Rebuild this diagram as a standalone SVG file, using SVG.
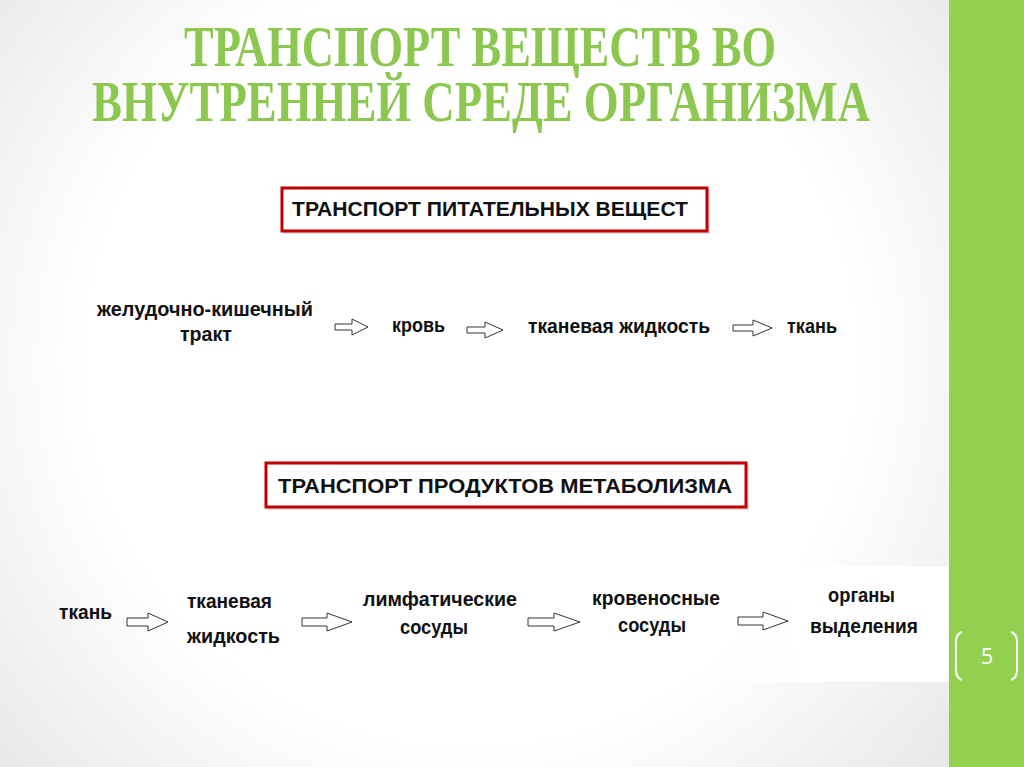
<svg xmlns="http://www.w3.org/2000/svg" width="1024" height="767" viewBox="0 0 1024 767">
  <defs>
    <radialGradient id="bg" cx="470" cy="360" r="640" gradientUnits="userSpaceOnUse">
      <stop offset="0" stop-color="#ffffff"/>
      <stop offset="0.6" stop-color="#ffffff"/>
      <stop offset="1" stop-color="#e6e6e6"/>
    </radialGradient>
    <linearGradient id="panel" x1="700" y1="0" x2="800" y2="0" gradientUnits="userSpaceOnUse">
      <stop offset="0" stop-color="#ffffff" stop-opacity="0"/>
      <stop offset="1" stop-color="#ffffff" stop-opacity="1"/>
    </linearGradient>
    <style>
      .title { font-family: "Liberation Serif", "DejaVu Serif", serif; font-weight: bold; font-size: 57px; fill: #8cc84f; }
      .t { font-family: "Liberation Sans", Arial, sans-serif; font-weight: bold; font-size: 20px; fill: #111111; }
      .box { fill: #ffffff; stroke: #c00000; stroke-width: 3; }
      .shadow { fill: none; stroke: #bbbbbb; stroke-width: 2; opacity: 0.5; }
      .arr { fill: #ffffff; stroke: #333333; stroke-width: 1; stroke-linejoin: miter; }
      .pg { font-family: "Open Sans", "Liberation Sans", sans-serif; font-size: 22px; fill: #ffffff; }
      .br { fill: none; stroke: #ffffff; stroke-width: 2; }
    </style>
  </defs>

  <!-- background -->
  <rect x="0" y="0" width="1024" height="767" fill="url(#bg)"/>
  <rect x="700" y="566" width="249" height="116" fill="url(#panel)"/>
  <rect x="949" y="0" width="75" height="767" fill="#92d050"/>

  <!-- page number -->
  <g id="page-number">
    <path class="br" d="M962,632 Q956,634 956,642 V670 Q956,678 962,680"/>
    <path class="br" d="M1011,632 Q1017,634 1017,642 V670 Q1017,678 1011,680"/>
    <text class="pg" x="987" y="664" text-anchor="middle">5</text>
  </g>

  <!-- title -->
  <g id="title">
    <text class="title" x="184" y="66" textLength="592" lengthAdjust="spacingAndGlyphs">ТРАНСПОРТ ВЕЩЕСТВ ВО</text>
    <text class="title" x="92" y="121" textLength="778" lengthAdjust="spacingAndGlyphs">ВНУТРЕННЕЙ СРЕДЕ ОРГАНИЗМА</text>
  </g>

  <!-- header boxes -->
  <g id="box-nutrients">
    <rect class="shadow" x="284" y="190" width="425" height="43"/>
    <rect class="box" x="282" y="188" width="425" height="43"/>
    <text class="t" x="292" y="216" textLength="396" lengthAdjust="spacingAndGlyphs">ТРАНСПОРТ ПИТАТЕЛЬНЫХ ВЕЩЕСТ</text>
  </g>
  <g id="box-metabolism">
    <rect class="shadow" x="268" y="465" width="480" height="44"/>
    <rect class="box" x="266" y="463" width="480" height="44"/>
    <text class="t" x="278" y="493" textLength="454" lengthAdjust="spacingAndGlyphs">ТРАНСПОРТ ПРОДУКТОВ МЕТАБОЛИЗМА</text>
  </g>

  <!-- row 1 nodes -->
  <g id="n1-gi-tract">
    <text class="t" x="97" y="316" textLength="216" lengthAdjust="spacingAndGlyphs">желудочно-кишечный</text>
    <text class="t" x="180" y="341" textLength="52" lengthAdjust="spacingAndGlyphs">тракт</text>
  </g>
  <g id="n1-blood">
    <text class="t" x="392" y="332" textLength="53" lengthAdjust="spacingAndGlyphs">кровь</text>
  </g>
  <g id="n1-tissue-fluid">
    <text class="t" x="528" y="333" textLength="182" lengthAdjust="spacingAndGlyphs">тканевая жидкость</text>
  </g>
  <g id="n1-tissue">
    <text class="t" x="787" y="333" textLength="50" lengthAdjust="spacingAndGlyphs">ткань</text>
  </g>

  <!-- row 2 nodes -->
  <g id="n2-tissue">
    <text class="t" x="59" y="619" textLength="53" lengthAdjust="spacingAndGlyphs">ткань</text>
  </g>
  <g id="n2-tissue-fluid">
    <text class="t" x="187" y="608" textLength="85" lengthAdjust="spacingAndGlyphs">тканевая</text>
    <text class="t" x="187" y="643" textLength="93" lengthAdjust="spacingAndGlyphs">жидкость</text>
  </g>
  <g id="n2-lymph">
    <text class="t" x="363" y="606" textLength="154" lengthAdjust="spacingAndGlyphs">лимфатические</text>
    <text class="t" x="400" y="634" textLength="68" lengthAdjust="spacingAndGlyphs">сосуды</text>
  </g>
  <g id="n2-blood-vessels">
    <text class="t" x="592" y="605" textLength="128" lengthAdjust="spacingAndGlyphs">кровеносные</text>
    <text class="t" x="618" y="632" textLength="68" lengthAdjust="spacingAndGlyphs">сосуды</text>
  </g>
  <g id="n2-excretory">
    <text class="t" x="828" y="602" textLength="67" lengthAdjust="spacingAndGlyphs">органы</text>
    <text class="t" x="810" y="633" textLength="108" lengthAdjust="spacingAndGlyphs">выделения</text>
  </g>

  <!-- connectors (block arrows) -->
  <g id="connectors">
    <path class="arr" d="M335,324 H352 V319 L368,327 L352,335 V330 H335 Z"/>
    <path class="arr" d="M467,327 H485 V322 L503,330 L485,338 V333 H467 Z"/>
    <path class="arr" d="M733,325 H753 V320 L772,328 L753,336 V331 H733 Z"/>

    <path class="arr" d="M127,618 H148 V613 L168,622 L148,631 V626 H127 Z"/>
    <path class="arr" d="M302,618 H327 V613 L352,622 L327,631 V626 H302 Z"/>
    <path class="arr" d="M528,618 H554 V613 L580,622 L554,631 V626 H528 Z"/>
    <path class="arr" d="M738,617 H763 V612 L788,621 L763,630 V625 H738 Z"/>
  </g>
</svg>
